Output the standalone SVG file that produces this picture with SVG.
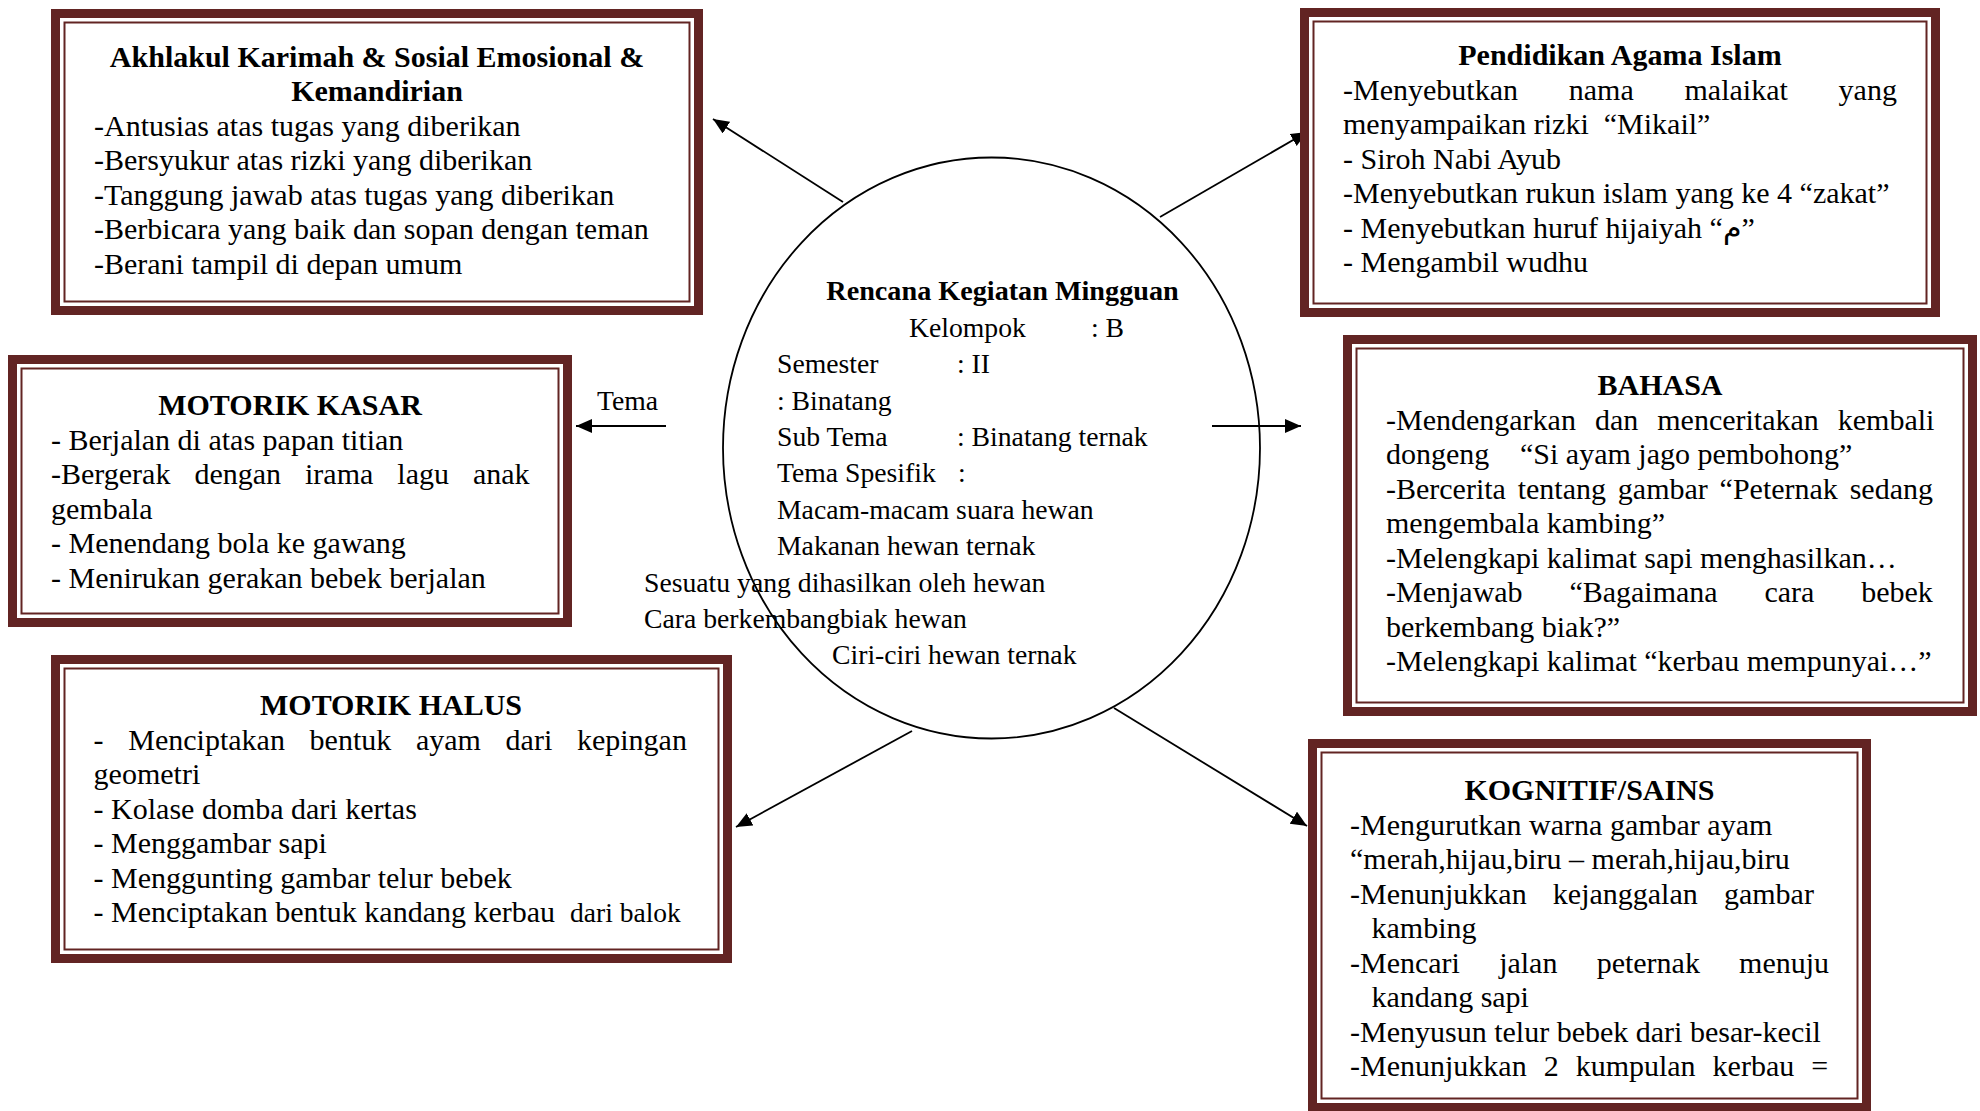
<svg xmlns="http://www.w3.org/2000/svg" width="1980" height="1111" viewBox="0 0 1980 1111">
<style>
.bg{fill:#ffffff}
.ob{fill:#ffffff;stroke:#622423;stroke-width:9}
.ib{fill:none;stroke:#622423;stroke-width:2}
.t{font-family:"Liberation Serif","DejaVu Serif","DejaVu Sans",serif;font-size:30px;fill:#000}
.b{font-weight:bold}
.m{text-anchor:middle}
.c{font-family:"Liberation Serif","DejaVu Serif",serif;font-size:27.7px;fill:#000}
.cb{font-weight:bold;font-size:28.2px}
.ln{stroke:#000;stroke-width:1.8;fill:none}
.circ{fill:#ffffff;stroke:#000;stroke-width:1.8}
</style>
<defs>
<marker id="ah" markerUnits="userSpaceOnUse" markerWidth="17" markerHeight="15" refX="16" refY="7" orient="auto">
<path d="M0,0 L16,7 L0,14 z" fill="#000"/>
</marker>
</defs>
<rect class="bg" x="0" y="0" width="1980" height="1111"/>

<g id="center">
<ellipse class="circ" cx="991.5" cy="448" rx="268.5" ry="290.5"/>
<text class="c cb" x="1002.5" y="300" text-anchor="middle">Rencana Kegiatan Mingguan</text>
<text class="c" x="909" y="336.5">Kelompok</text>
<text class="c" x="1091" y="336.5">: B</text>
<text class="c" x="777" y="373">Semester</text>
<text class="c" x="957" y="373">: II</text>
<text class="c" x="777" y="409.5">: Binatang</text>
<text class="c" x="777" y="446">Sub Tema</text>
<text class="c" x="957" y="446">: Binatang ternak</text>
<text class="c" x="777" y="482">Tema Spesifik</text>
<text class="c" x="958" y="482">:</text>
<text class="c" x="777" y="518.5">Macam-macam suara hewan</text>
<text class="c" x="777" y="555">Makanan hewan ternak</text>
<text class="c" x="644" y="591.5">Sesuatu yang dihasilkan oleh hewan</text>
<text class="c" x="644" y="628">Cara berkembangbiak hewan</text>
<text class="c" x="832" y="664">Ciri-ciri hewan ternak</text>
</g>

<g id="tema-label">
<text class="c" x="597" y="410">Tema</text>
</g>

<g id="connectors">
<line class="ln" x1="843" y1="202" x2="713" y2="119" marker-end="url(#ah)"/>
<line class="ln" x1="1160" y1="217" x2="1307" y2="132" marker-end="url(#ah)"/>
<line class="ln" x1="666" y1="426" x2="576" y2="426" marker-end="url(#ah)"/>
<line class="ln" x1="1212" y1="426" x2="1301" y2="426" marker-end="url(#ah)"/>
<line class="ln" x1="912" y1="731" x2="736" y2="827" marker-end="url(#ah)"/>
<line class="ln" x1="1114" y1="708" x2="1307" y2="826" marker-end="url(#ah)"/>
</g>

<g id="akhlakul">
<rect class="ob" x="55.5" y="13.5" width="643" height="297"/>
<rect class="ib" x="64.5" y="22.5" width="625" height="279"/>
<text class="t b m" x="377" y="67">Akhlakul Karimah &amp; Sosial Emosional &amp;</text>
<text class="t b m" x="377" y="101">Kemandirian</text>
<text class="t" x="94" y="135.5">-Antusias atas tugas yang diberikan</text>
<text class="t" x="94" y="170">-Bersyukur atas rizki yang diberikan</text>
<text class="t" x="94" y="204.5">-Tanggung jawab atas tugas yang diberikan</text>
<text class="t" x="94" y="239">-Berbicara yang baik dan sopan dengan teman</text>
<text class="t" x="94" y="273.5">-Berani tampil di depan umum</text>
</g>

<g id="pendidikan-agama-islam">
<rect class="ob" x="1304.5" y="12.5" width="631" height="300"/>
<rect class="ib" x="1313.5" y="21.5" width="613" height="282"/>
<text class="t b m" x="1620" y="65">Pendidikan Agama Islam</text>
<text class="t" x="1343" y="99.5" word-spacing="43.3">-Menyebutkan nama malaikat yang</text>
<text class="t" x="1343" y="134" xml:space="preserve">menyampaikan rizki  “Mikail”</text>
<text class="t" x="1343" y="168.5">- Siroh Nabi Ayub</text>
<text class="t" x="1343" y="203">-Menyebutkan rukun islam yang ke 4 “zakat”</text>
<text class="t" x="1343" y="237.5">- Menyebutkan huruf hijaiyah “م”</text>
<text class="t" x="1343" y="272">- Mengambil wudhu</text>
</g>

<g id="motorik-kasar">
<rect class="ob" x="12.5" y="359.5" width="555" height="263"/>
<rect class="ib" x="21.5" y="368.5" width="537" height="245"/>
<text class="t b m" x="290" y="415">MOTORIK KASAR</text>
<text class="t" x="51" y="449.5">- Berjalan di atas papan titian</text>
<text class="t" x="51" y="484" word-spacing="16.5">-Bergerak dengan irama lagu anak</text>
<text class="t" x="51" y="518.5">gembala</text>
<text class="t" x="51" y="553">- Menendang bola ke gawang</text>
<text class="t" x="51" y="587.5">- Menirukan gerakan bebek berjalan</text>
</g>

<g id="bahasa">
<rect class="ob" x="1347.5" y="339.5" width="625" height="372"/>
<rect class="ib" x="1356.5" y="348.5" width="607" height="354"/>
<text class="t b m" x="1660" y="395">BAHASA</text>
<text class="t" x="1386" y="429.5" word-spacing="11.5">-Mendengarkan dan menceritakan kembali</text>
<text class="t" x="1386" y="464">dongeng <tspan x="1520">“Si ayam jago pembohong”</tspan></text>
<text class="t" x="1386" y="498.5" word-spacing="4.3">-Bercerita tentang gambar “Peternak sedang</text>
<text class="t" x="1386" y="533">mengembala kambing”</text>
<text class="t" x="1386" y="567.5">-Melengkapi kalimat sapi menghasilkan…</text>
<text class="t" x="1386" y="602" word-spacing="39.3">-Menjawab “Bagaimana cara bebek</text>
<text class="t" x="1386" y="636.5">berkembang biak?”</text>
<text class="t" x="1386" y="671">-Melengkapi kalimat “kerbau mempunyai…”</text>
</g>

<g id="motorik-halus">
<rect class="ob" x="55.5" y="659.5" width="672" height="299"/>
<rect class="ib" x="64.5" y="668.5" width="654" height="281"/>
<text class="t b m" x="391" y="715">MOTORIK HALUS</text>
<text class="t" x="93.6" y="749.5" word-spacing="17.2">- Menciptakan bentuk ayam dari kepingan</text>
<text class="t" x="93.6" y="784">geometri</text>
<text class="t" x="93.6" y="818.5">- Kolase domba dari kertas</text>
<text class="t" x="93.6" y="853">- Menggambar sapi</text>
<text class="t" x="93.6" y="887.5">- Menggunting gambar telur bebek</text>
<text class="t" x="93.6" y="922" xml:space="preserve">- Menciptakan bentuk kandang kerbau  <tspan font-size="27.5">dari balok</tspan></text>
</g>

<g id="kognitif-sains">
<rect class="ob" x="1312.5" y="743.5" width="554" height="364"/>
<rect class="ib" x="1321.5" y="752.5" width="536" height="346"/>
<text class="t b m" x="1589.5" y="800">KOGNITIF/SAINS</text>
<text class="t" x="1350" y="834.5">-Mengurutkan warna gambar ayam</text>
<text class="t" x="1350" y="869">“merah,hijau,biru – merah,hijau,biru</text>
<text class="t" x="1350" y="903.5" word-spacing="18.7">-Menunjukkan kejanggalan gambar</text>
<text class="t" x="1371.5" y="938">kambing</text>
<text class="t" x="1350" y="972.5" word-spacing="31.7">-Mencari jalan peternak menuju</text>
<text class="t" x="1371.5" y="1007">kandang sapi</text>
<text class="t" x="1350" y="1041.5">-Menyusun telur bebek dari besar-kecil</text>
<text class="t" x="1350" y="1076" word-spacing="9.5">-Menunjukkan 2 kumpulan kerbau =</text>
</g>
</svg>
